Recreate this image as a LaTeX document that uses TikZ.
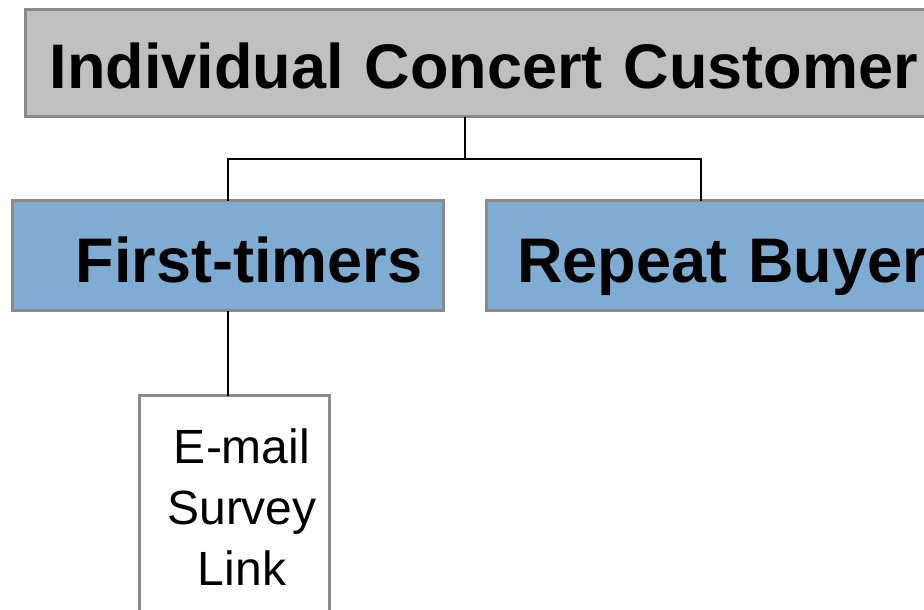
\documentclass[tikz,border=0pt]{standalone}
\usepackage{fontspec}
\setmainfont{Liberation Sans}
\definecolor{rootfill}{HTML}{C0C0C0}
\definecolor{groupfill}{HTML}{7FACD3}
\definecolor{boxline}{HTML}{8A8A8A}
\tikzset{
  box/.style={draw=boxline, line width=3pt, rectangle, outer sep=0pt, anchor=north west},
  rootbox/.style={box, fill=rootfill, font=\fontsize{63}{70}\selectfont\bfseries,
    text height=58pt, text depth=7.4pt},
  groupbox/.style={box, fill=groupfill, font=\fontsize{63}{70}\selectfont\bfseries,
    text height=60pt, text depth=7pt},
  leafbox/.style={box, fill=white},
  leaflabel/.style={font=\fontsize{48}{61}\selectfont, align=center, anchor=north, inner sep=0pt},
  conn/.style={draw=black, line width=2pt}
}
\begin{document}
\begin{tikzpicture}[x=1pt, y=-1pt]
\useasboundingbox (0,0) rectangle (924,610);
\clip (0,0) rectangle (924,610);

% top level
\node[rootbox, minimum height=107pt, text width=888pt, inner xsep=24pt, align=left]
  (root) at (25.5,9.5) {Individual Concert Customer};

% second level
\node[groupbox, minimum height=110pt, text width=389pt, inner xsep=21pt, align=right]
  (first) at (12.5,200.5) {First-timers};
\node[groupbox, minimum height=110pt, text width=440pt, inner xsep=31pt, align=left]
  (repeat) at (486,200.5) {Repeat Buyer};

% third level
\node[leafbox, minimum width=190pt, minimum height=240pt] (leaf) at (139.5,395.5) {};
\node[leaflabel] (leaftext) at ([xshift=7.5pt, yshift=-33pt]leaf.north) {E-mail\\Survey\\Link};

% connectors
\coordinate (fork) at (465,159);
\coordinate (rjoin) at (701,159);
\draw[conn] (root.south -| fork) -- (fork);
\draw[conn] (first.north) |- (rjoin) -- (rjoin |- repeat.north);
\draw[conn] (first.south) -- (first.south |- leaf.north);
\end{tikzpicture}
\end{document}
